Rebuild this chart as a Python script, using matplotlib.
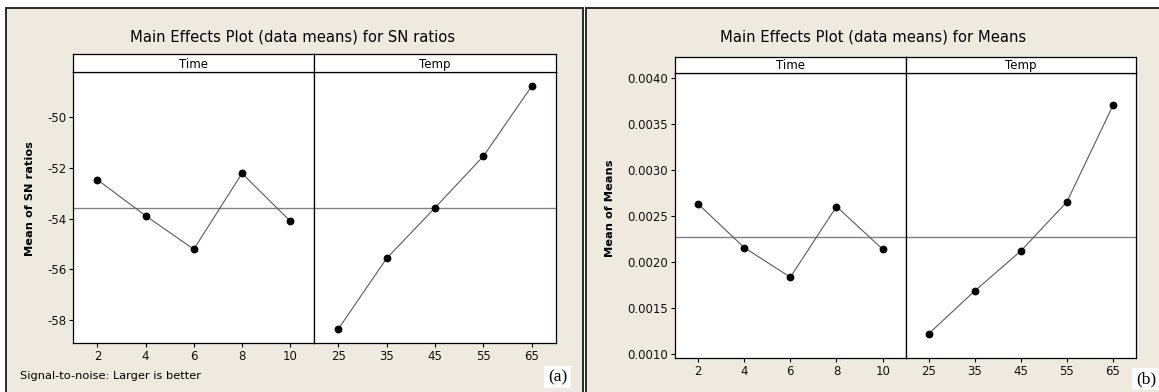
import matplotlib
matplotlib.use("Agg")
import matplotlib.pyplot as plt
from matplotlib.patches import Rectangle
import numpy as np

W, H = 1159, 392

# ---- data ----
time_levels = ["2", "4", "6", "8", "10"]
temp_levels = ["25", "35", "45", "55", "65"]
sn_time = [-52.47, -53.89, -55.21, -52.22, -54.10]
sn_temp = [-58.34, -55.56, -53.57, -51.54, -48.78]
means_time = [0.00263, 0.002155, 0.001834, 0.002601, 0.002138]
means_temp = [0.00122, 0.001685, 0.002119, 0.002652, 0.003699]
sn_yticks = [-58, -56, -54, -52, -50]
means_yticks = [0.0010, 0.0015, 0.0020, 0.0025, 0.0030, 0.0035, 0.0040]
factor_names = ["Time", "Temp"]

BG = "#eeeae0"
FONT = "DejaVu Sans"
plt.rcParams["font.family"] = [FONT]

fig = plt.figure(figsize=(W / 100, H / 100), dpi=100, facecolor="white")


def fr(x0, y0, x1, y1):
    return [x0 / W, 1 - y1 / H, (x1 - x0) / W, (y1 - y0) / H]


def panel(x0, x1, y0, y1):
    fig.add_artist(Rectangle((x0 / W, 1 - y1 / H), (x1 - x0) / W, (y1 - y0) / H,
                             transform=fig.transFigure, facecolor=BG,
                             edgecolor="#2a2a2a", lw=1.4, zorder=0))


def chart(xs, strip_top, strip_bot, bottom, ylim, yticks, ylabels, series,
          ylabel, ylabel_xy, title, title_xy, tick_fs):
    allv = np.concatenate([np.asarray(s) for s in series])
    grand = allv.mean()
    for i, (levels, vals) in enumerate(zip([time_levels, temp_levels], series)):
        xa, xb = xs[i], xs[i + 1]
        ax = fig.add_axes(fr(xa, strip_bot, xb, bottom))
        ax.set_facecolor("white")
        pos = np.arange(len(vals))
        ax.axhline(grand, color="#808080", lw=1.0, zorder=1)
        ax.plot(pos, vals, color="#5a5a5a", lw=0.8, zorder=2)
        ax.plot(pos, vals, "o", color="black", ms=4.6, zorder=3)
        ax.set_xlim(-0.5, len(vals) - 0.5)
        ax.set_ylim(*ylim)
        ax.set_xticks(pos)
        ax.set_xticklabels(levels, fontsize=tick_fs, color="#111111")
        ax.tick_params(axis="x", length=3, width=0.8, pad=2, direction="out")
        if i == 0:
            ax.set_yticks(yticks)
            ax.set_yticklabels(ylabels, fontsize=tick_fs, color="#111111")
            ax.tick_params(axis="y", length=3, width=0.8, pad=2, direction="out")
        else:
            ax.set_yticks([])
        for sp in ax.spines.values():
            sp.set_color("black")
            sp.set_linewidth(0.9)
        sa = fig.add_axes(fr(xa, strip_top, xb, strip_bot))
        sa.set_facecolor("white")
        sa.set_xticks([])
        sa.set_yticks([])
        for sp in sa.spines.values():
            sp.set_color("black")
            sp.set_linewidth(0.9)
        sa.text(0.5, 0.45, factor_names[i], ha="center", va="center",
                fontsize=8.5, transform=sa.transAxes)
    fig.text(ylabel_xy[0] / W, 1 - ylabel_xy[1] / H, ylabel, rotation=90,
             ha="center", va="center", fontsize=8.2, fontweight="bold")
    fig.text(title_xy[0] / W, 1 - title_xy[1] / H, title, ha="center",
             va="center", fontsize=10.6)


# panel backgrounds
panel(6, 583, 8, 400)
panel(586, 1165, 8, 400)

chart([73.3, 314.3, 556.0], 54.3, 72.3, 342.7, (-58.89, -48.24),
      sn_yticks, [f"{v:d}" for v in sn_yticks], [sn_time, sn_temp],
      "Mean of SN ratios", (30, 199), "Main Effects Plot (data means) for SN ratios",
      (293, 37), 8.5)

chart([675.0, 905.7, 1136.0], 56.7, 73.3, 358.3, (0.000953, 0.004048),
      means_yticks, [f"{v:.4f}" for v in means_yticks], [means_time, means_temp],
      "Mean of Means", (610, 208), "Main Effects Plot (data means) for Means",
      (873, 37), 8.5)

fig.text(20.5 / W, 1 - 376 / H, "Signal-to-noise: Larger is better",
         ha="left", va="center", fontsize=8.2)
fig.text(557.5 / W, 1 - 377 / H, "(a)", ha="center", va="center", fontsize=12.5,
         family=["Liberation Serif", "DejaVu Serif"],
         bbox=dict(facecolor="white", edgecolor="none", pad=2.5))
fig.text(1146 / W, 1 - 379 / H, "(b)", ha="center", va="center", fontsize=12.5,
         family=["Liberation Serif", "DejaVu Serif"],
         bbox=dict(facecolor="white", edgecolor="none", pad=2.5))

fig.savefig("out.png", dpi=100, facecolor="white")
